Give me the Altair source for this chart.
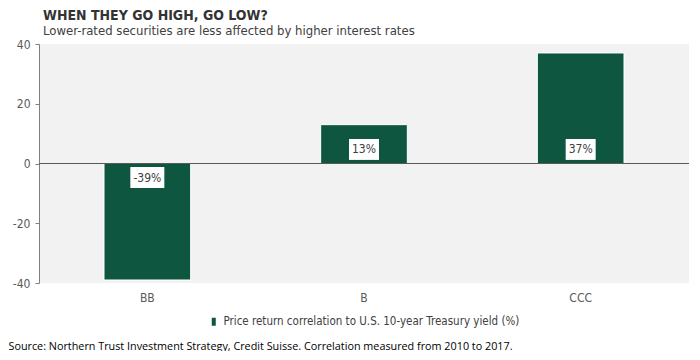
import altair as alt
import pandas as pd

categories = ["BB", "B", "CCC"]
values = [-39, 13, 37]
labels = ["-39%", "13%", "37%"]
series_name = "Price return correlation to U.S. 10-year Treasury yield (%)"
y_ticks = [-40, -20, 0, 20, 40]

df = pd.DataFrame({"rating": categories, "value": values, "label": labels, "series": series_name})

NARROW = "Liberation Sans Narrow, Arial Narrow, DejaVu Sans Condensed, sans-serif"
GREEN = "#0f5641"

x_enc = alt.X("rating:N", sort=categories, scale=alt.Scale(paddingInner=0.6, paddingOuter=0.3),
              axis=alt.Axis(labelAngle=0, labelFont=NARROW, labelFontSize=12, labelColor="#595959",
                            labelPadding=9, domain=False, ticks=False,
                            title="Source: Northern Trust Investment Strategy, Credit Suisse. Correlation measured from 2010 to 2017.",
                            titleX=-31, titleY=57, titleAlign="left", titleAnchor="start", titleBaseline="top",
                            titleFont="Open Sans, sans-serif", titleFontSize=10.8, titleFontWeight="normal",
                            titleColor="#000000"))
y_scale = alt.Scale(domain=[-40, 40], nice=False)

bars = alt.Chart(df).mark_bar(stroke="#ffffff", strokeWidth=1).encode(
    x=x_enc,
    y=alt.Y("value:Q", scale=y_scale,
            axis=alt.Axis(values=y_ticks, grid=False, title=None, labelFont=NARROW, labelFontSize=12,
                          labelColor="#595959", domainColor="#7f7f7f", tickColor="#7f7f7f", tickSize=4,
                          labelPadding=5, labelExpr="datum.value + ''")),
    color=alt.Color("series:N", scale=alt.Scale(range=[GREEN]),
                    legend=alt.Legend(title=None, orient="none", legendX=169, legendY=272,
                                      symbolType="M-0.5,-1H0.5V1H-0.5Z", symbolSize=64,
                                      symbolStrokeWidth=0, labelFont=NARROW, labelFontSize=11.5,
                                      labelColor="#404040", labelLimit=500)),
)

zero = alt.Chart(df).mark_rule(color="#595959", strokeWidth=1.2).encode(y=alt.datum(0))

base_lbl = alt.Chart(df).transform_calculate(
    s="datum.value < 0 ? -1 : 1",
    lo="datum.s * 1.2",
    hi="datum.s * 8.2",
    mid="datum.s * 4.7",
    w="18 + 4 * length(datum.label)",
)

boxes = base_lbl.mark_bar(color="#ffffff").encode(
    x=alt.X("rating:N", sort=categories),
    y="lo:Q",
    y2="hi:Q",
    size=alt.Size("w:Q", scale=None, legend=None),
)

texts = base_lbl.mark_text(font=NARROW, fontSize=12, color="#404040", baseline="middle").encode(
    x=alt.X("rating:N", sort=categories),
    y="mid:Q",
    text="label:N",
)

chart = alt.layer(bars, zero, boxes, texts).properties(
    width=650,
    height=239,
    padding={"left": 0, "top": 1, "right": 0, "bottom": 0},
    title=alt.TitleParams(
        text="WHEN THEY GO HIGH, GO LOW?",
        subtitle="Lower-rated securities are less affected by higher interest rates",
        anchor="start", frame="group", dx=4, font=NARROW, fontSize=14, fontWeight="bold", color="#333333",
        subtitleFont=NARROW, subtitleFontSize=13, subtitleColor="#404040", subtitlePadding=2, offset=0,
    ),
).configure_view(fill="#f2f2f2", stroke=None)

chart.save("out.html", embed_options={"renderer": "svg", "actions": False})
